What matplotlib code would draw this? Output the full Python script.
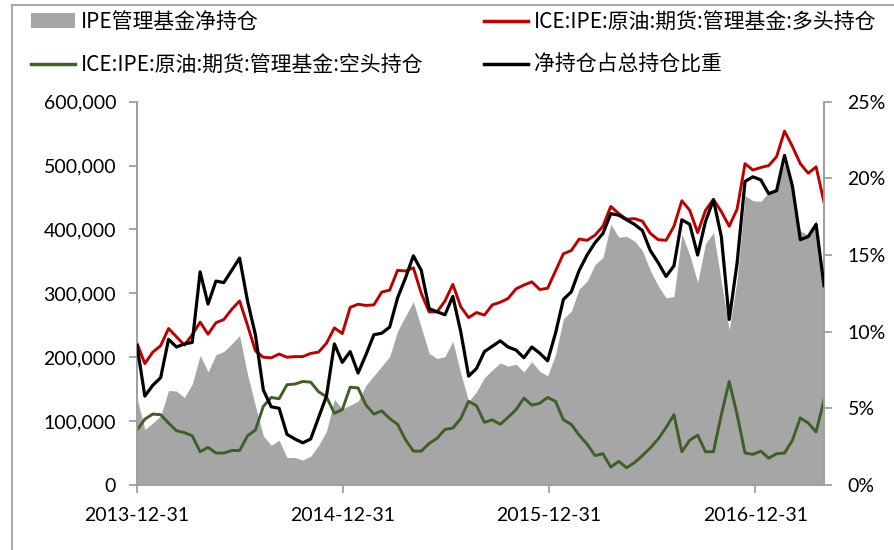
import numpy as np
import pandas as pd
import matplotlib
matplotlib.use('Agg')
import matplotlib.pyplot as plt
import matplotlib.dates as mdates
from matplotlib.patches import Patch
from matplotlib.lines import Line2D
from matplotlib.ticker import FuncFormatter, FixedLocator

# bi-weekly observations, 2013-12-31 .. 2017-05-02
dates = pd.date_range('2013-12-31', periods=88, freq='14D')

# ICE Brent managed money long positions (contracts, thousands)
long_k = [222, 190, 208, 218, 245, 232, 219, 235, 255, 236,
          254, 259, 275, 288, 250, 210, 200, 199, 205, 200,
          201, 201, 206, 208, 222, 246, 237, 278, 283, 281,
          282, 302, 305, 336, 335, 340, 300, 271, 271, 288,
          314, 279, 262, 270, 266, 282, 286, 292, 307, 313,
          318, 306, 308, 335, 362, 367, 385, 383, 391, 405,
          436, 425, 416, 417, 413, 394, 384, 383, 405, 445,
          430, 395, 430, 447, 428, 405, 432, 503, 493, 497,
          500, 514, 554, 530, 503, 488, 498, 443]

# managed money short positions (thousands)
short_k = [86, 103, 111, 110, 97, 85, 82, 77, 52, 59,
           50, 50, 54, 54, 77, 86, 123, 137, 135, 157,
           158, 162, 161, 146, 138, 112, 118, 153, 152, 125,
           111, 116, 104, 95, 71, 53, 53, 65, 73, 87,
           89, 104, 131, 124, 98, 102, 95, 106, 118, 136,
           125, 128, 137, 131, 102, 95, 78, 64, 46, 49,
           28, 37, 27, 35, 46, 58, 72, 90, 110, 52,
           70, 78, 52, 52, 110, 162, 110, 50, 48, 53,
           42, 49, 50, 70, 105, 97, 83, 133]

# net position as share of total open interest (%)
ratio = [9.1, 5.8, 6.5, 7.0, 9.5, 9.0, 9.2, 9.3, 13.9, 11.8,
         13.3, 13.2, 14.0, 14.8, 12.0, 9.8, 6.2, 5.1, 5.0, 3.3,
         3.0, 2.75, 3.0, 4.4, 5.8, 9.2, 8.0, 8.7, 7.3, 8.5,
         9.8, 9.9, 10.3, 12.2, 13.5, 14.95, 14.0, 11.5, 11.3, 11.1,
         12.3, 10.0, 7.1, 7.6, 8.7, 9.05, 9.4, 9.0, 8.8, 8.3,
         9.0, 8.6, 8.1, 9.9, 12.1, 12.6, 14.0, 15.0, 15.8, 16.4,
         17.7, 17.6, 17.3, 17.0, 16.6, 15.3, 14.5, 13.6, 14.3, 17.3,
         17.0, 15.0, 17.2, 18.6, 16.2, 10.8, 14.5, 19.8, 20.1, 19.9,
         19.0, 19.2, 21.5, 19.5, 16.0, 16.2, 17.0, 13.0]

labels = ['IPE管理基金净持仓',
          'ICE:IPE:原油:期货:管理基金:空头持仓',
          'ICE:IPE:原油:期货:管理基金:多头持仓',
          '净持仓占总持仓比重']
xtick_dates = pd.to_datetime(['2013-12-31', '2014-12-31', '2015-12-31', '2016-12-31'])

long_pos = np.array(long_k) * 1000
short_pos = np.array(short_k) * 1000
net_pos = long_pos - short_pos

c_net = '#A6A6A6'
c_long = '#C00000'
c_short = '#3F5F28'
c_axis = '#A0A0A0'

plt.rcParams['font.family'] = ['Lato', 'DejaVu Sans']

fig = plt.figure(figsize=(8.94, 5.5), dpi=100)
ax = fig.add_axes([0.1532, 0.1182, 0.7685, 0.6969])
ax2 = ax.twinx()

ax.fill_between(dates, 0, net_pos, color=c_net, linewidth=0, zorder=1)
ax.plot(dates, long_pos, color=c_long, lw=2.1, zorder=3)
ax.plot(dates, short_pos, color=c_short, lw=2.1, zorder=3)
ax2.plot(dates, ratio, color='black', lw=2.3, zorder=4)

ax.set_xlim(dates[0], dates[-1])
ax.set_ylim(0, 600000)
ax2.set_ylim(0, 25)
ax.set_yticks(np.arange(0, 600001, 100000))
ax2.set_yticks(np.arange(0, 26, 5))
ax.yaxis.set_major_formatter(FuncFormatter(lambda v, p: f'{v:,.0f}'))
ax2.yaxis.set_major_formatter(FuncFormatter(lambda v, p: f'{v:.0f}%'))
ax.xaxis.set_major_locator(FixedLocator(mdates.date2num(xtick_dates)))
ax.xaxis.set_major_formatter(mdates.DateFormatter('%Y-%m-%d'))

for a in (ax, ax2):
    a.spines['top'].set_visible(False)
    for s in ('left', 'right', 'bottom'):
        a.spines[s].set_color(c_axis)
        a.spines[s].set_linewidth(1.3)
    a.tick_params(colors=c_axis, labelcolor='black', labelsize=14, length=6, width=1.3)
ax.tick_params(axis='y', pad=9)
ax2.tick_params(axis='y', pad=11)
ax.tick_params(axis='x', pad=10)

handles = [Patch(facecolor=c_net, edgecolor='none'),
           Line2D([], [], color=c_short, lw=2.5),
           Line2D([], [], color=c_long, lw=2.5),
           Line2D([], [], color='black', lw=2.5)]
fig.legend(handles, labels, ncol=2, loc='upper left',
           bbox_to_anchor=(31 / 894, 1 - 11 / 550), frameon=False,
           borderpad=0, borderaxespad=0, handlelength=2.1, handleheight=0.7,
           handletextpad=0.3, columnspacing=2.9, labelspacing=1.0,
           prop={'family': ['Noto Sans CJK SC', 'DejaVu Sans'], 'size': 15})

# outer chart border (left and top edges visible)
fig.add_artist(Line2D([12 / 894, 12 / 894], [0, 1 - 5 / 550], transform=fig.transFigure,
                      color=c_axis, lw=1.3))
fig.add_artist(Line2D([12 / 894, 1], [1 - 5 / 550, 1 - 5 / 550], transform=fig.transFigure,
                      color=c_axis, lw=1.3))

fig.savefig('out.png', dpi=100)
